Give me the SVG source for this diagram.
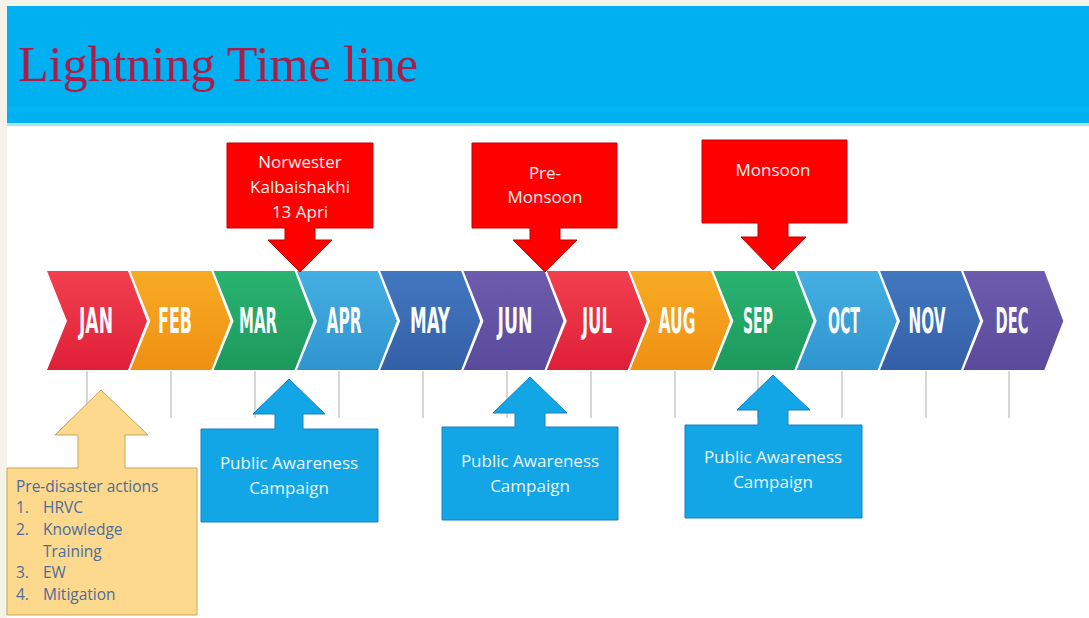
<svg xmlns="http://www.w3.org/2000/svg" width="1089" height="618" viewBox="0 0 1089 618">
  <defs>
    <linearGradient id="gRed" x1="0" y1="0" x2="0" y2="1"><stop offset="0" stop-color="#f2404f"/><stop offset="1" stop-color="#df1f38"/></linearGradient>
    <linearGradient id="gOrange" x1="0" y1="0" x2="0" y2="1"><stop offset="0" stop-color="#f8ab25"/><stop offset="1" stop-color="#ef9012"/></linearGradient>
    <linearGradient id="gGreen" x1="0" y1="0" x2="0" y2="1"><stop offset="0" stop-color="#2ab372"/><stop offset="1" stop-color="#1c995c"/></linearGradient>
    <linearGradient id="gSky" x1="0" y1="0" x2="0" y2="1"><stop offset="0" stop-color="#45afe2"/><stop offset="1" stop-color="#2f94cf"/></linearGradient>
    <linearGradient id="gBlue" x1="0" y1="0" x2="0" y2="1"><stop offset="0" stop-color="#4278c0"/><stop offset="1" stop-color="#345fa7"/></linearGradient>
    <linearGradient id="gPurple" x1="0" y1="0" x2="0" y2="1"><stop offset="0" stop-color="#6d5cae"/><stop offset="1" stop-color="#5a4a9b"/></linearGradient>
    <path id="chev" d="M0,271 H81 L100,321 L81,370 H0 L20,321 Z"/>
  </defs>
  <style>
    .title { font-family: "Liberation Serif", "Times New Roman", serif; font-size: 50px; fill: #ad1c46; }
    .month { font-family: "Liberation Sans Narrow", "DejaVu Sans Condensed", "Liberation Sans", sans-serif; font-weight: bold; font-size: 35px; fill: #fbfbfb; text-anchor: middle; }
    .tick { stroke: #c8c8c8; stroke-width: 1.5; fill: none; }
    .red { fill: #ff0000; stroke: #c80000; stroke-width: 1; }
    .blue { fill: #12a6e6; stroke: #1a7fc0; stroke-width: 1; }
    .yellow { fill: #fcd98c; stroke: #c9a55a; stroke-width: 1; }
    .lbl { font-family: "Open Sans", "Liberation Sans", sans-serif; font-size: 17px; text-anchor: middle; }
    .lbl-red { fill: #fff0f0; }
    .lbl-blue { fill: #e8f6fc; }
    .list { font-family: "Open Sans", "Liberation Sans", sans-serif; font-size: 15.5px; fill: #4e6c9c; }
  </style>

  <!-- page frame and header -->
  <rect x="0" y="0" width="1089" height="618" fill="#f5f2ea"/>
  <rect x="7" y="124" width="1082" height="494" fill="#ffffff"/>
  <rect x="7" y="6" width="1082" height="118" fill="#00b0f0"/>
  <rect x="7" y="106" width="1082" height="6" fill="#03b4f3"/>
  <rect x="7" y="123" width="1082" height="3" fill="#a8e4f8"/>
  <text class="title" x="18" y="81">Lightning Time line</text>

  <!-- month band -->
  <g id="timeline">
    <use href="#chev" x="47" fill="url(#gRed)"/>
    <use href="#chev" x="130.3" fill="url(#gOrange)"/>
    <use href="#chev" x="213.6" fill="url(#gGreen)"/>
    <use href="#chev" x="296.9" fill="url(#gSky)"/>
    <use href="#chev" x="380.2" fill="url(#gBlue)"/>
    <use href="#chev" x="463.5" fill="url(#gPurple)"/>
    <use href="#chev" x="546.8" fill="url(#gRed)"/>
    <use href="#chev" x="630.1" fill="url(#gOrange)"/>
    <use href="#chev" x="713.4" fill="url(#gGreen)"/>
    <use href="#chev" x="796.7" fill="url(#gSky)"/>
    <use href="#chev" x="880" fill="url(#gBlue)"/>
    <use href="#chev" x="963.3" fill="url(#gPurple)"/>
    <text class="month" x="96" y="333" textLength="34" lengthAdjust="spacingAndGlyphs">JAN</text>
    <text class="month" x="175" y="333" textLength="34" lengthAdjust="spacingAndGlyphs">FEB</text>
    <text class="month" x="258" y="333" textLength="38" lengthAdjust="spacingAndGlyphs">MAR</text>
    <text class="month" x="344" y="333" textLength="35" lengthAdjust="spacingAndGlyphs">APR</text>
    <text class="month" x="430" y="333" textLength="40" lengthAdjust="spacingAndGlyphs">MAY</text>
    <text class="month" x="515" y="333" textLength="35" lengthAdjust="spacingAndGlyphs">JUN</text>
    <text class="month" x="597" y="333" textLength="30" lengthAdjust="spacingAndGlyphs">JUL</text>
    <text class="month" x="677" y="333" textLength="37" lengthAdjust="spacingAndGlyphs">AUG</text>
    <text class="month" x="758" y="333" textLength="30" lengthAdjust="spacingAndGlyphs">SEP</text>
    <text class="month" x="844" y="333" textLength="32" lengthAdjust="spacingAndGlyphs">OCT</text>
    <text class="month" x="927" y="333" textLength="37" lengthAdjust="spacingAndGlyphs">NOV</text>
    <text class="month" x="1012" y="333" textLength="33" lengthAdjust="spacingAndGlyphs">DEC</text>
  </g>

  <!-- month ticks -->
  <g id="connectors">
    <line class="tick" x1="87" y1="371" x2="87" y2="418"/>
    <line class="tick" x1="171" y1="371" x2="171" y2="418"/>
    <line class="tick" x1="255" y1="371" x2="255" y2="418"/>
    <line class="tick" x1="339" y1="371" x2="339" y2="418"/>
    <line class="tick" x1="423" y1="371" x2="423" y2="418"/>
    <line class="tick" x1="507" y1="371" x2="507" y2="418"/>
    <line class="tick" x1="591" y1="371" x2="591" y2="418"/>
    <line class="tick" x1="675" y1="371" x2="675" y2="418"/>
    <line class="tick" x1="758" y1="371" x2="758" y2="418"/>
    <line class="tick" x1="842" y1="371" x2="842" y2="418"/>
    <line class="tick" x1="926" y1="371" x2="926" y2="418"/>
    <line class="tick" x1="1009" y1="371" x2="1009" y2="418"/>
  </g>

  <!-- seasons above the band -->
  <g id="norwester">
    <path class="red" d="M227,143 H373 V228 H315 V240 H332 L300,272 L268,240 H285 V228 H227 Z"/>
    <text class="lbl lbl-red" x="300" y="168">Norwester</text>
    <text class="lbl lbl-red" x="300" y="193">Kalbaishakhi</text>
    <text class="lbl lbl-red" x="300" y="218">13 Apri</text>
  </g>
  <g id="pre-monsoon">
    <path class="red" d="M472,143 H617 V228 H560 V240 H577 L545,272 L513,240 H530 V228 H472 Z"/>
    <text class="lbl lbl-red" x="545" y="179">Pre-</text>
    <text class="lbl lbl-red" x="545" y="203">Monsoon</text>
  </g>
  <g id="monsoon">
    <path class="red" d="M702,140 H847 V223 H788 V237 H806 L773,270 L741,237 H758 V223 H702 Z"/>
    <text class="lbl lbl-red" x="773" y="176">Monsoon</text>
  </g>

  <!-- activities below the band -->
  <g id="pre-disaster">
    <path class="yellow" d="M7,468 H78 V435 H55 L101,390 L148,435 H125 V468 H197 V615 H7 Z"/>
    <text class="list" x="16" y="492">Pre-disaster  actions</text>
    <text class="list" x="16" y="513">1.</text><text class="list" x="43" y="513">HRVC</text>
    <text class="list" x="16" y="535">2.</text><text class="list" x="43" y="535">Knowledge</text>
    <text class="list" x="43" y="557">Training</text>
    <text class="list" x="16" y="578">3.</text><text class="list" x="43" y="578">EW</text>
    <text class="list" x="16" y="600">4.</text><text class="list" x="43" y="600">Mitigation</text>
  </g>
  <g id="campaign-spring">
    <path class="blue" d="M201,429 H275 V414 H253 L289,379 L325,414 H303 V429 H378 V522 H201 Z"/>
    <text class="lbl lbl-blue" x="289" y="469">Public Awareness</text>
    <text class="lbl lbl-blue" x="289" y="494">Campaign</text>
  </g>
  <g id="campaign-summer">
    <path class="blue" d="M442,427 H515 V413 H493 L530,377 L567,413 H545 V427 H618 V520 H442 Z"/>
    <text class="lbl lbl-blue" x="530" y="467">Public Awareness</text>
    <text class="lbl lbl-blue" x="530" y="492">Campaign</text>
  </g>
  <g id="campaign-monsoon">
    <path class="blue" d="M685,425 H758 V410 H737 L773,375 L810,410 H788 V425 H862 V518 H685 Z"/>
    <text class="lbl lbl-blue" x="773" y="463">Public Awareness</text>
    <text class="lbl lbl-blue" x="773" y="488">Campaign</text>
  </g>
</svg>
